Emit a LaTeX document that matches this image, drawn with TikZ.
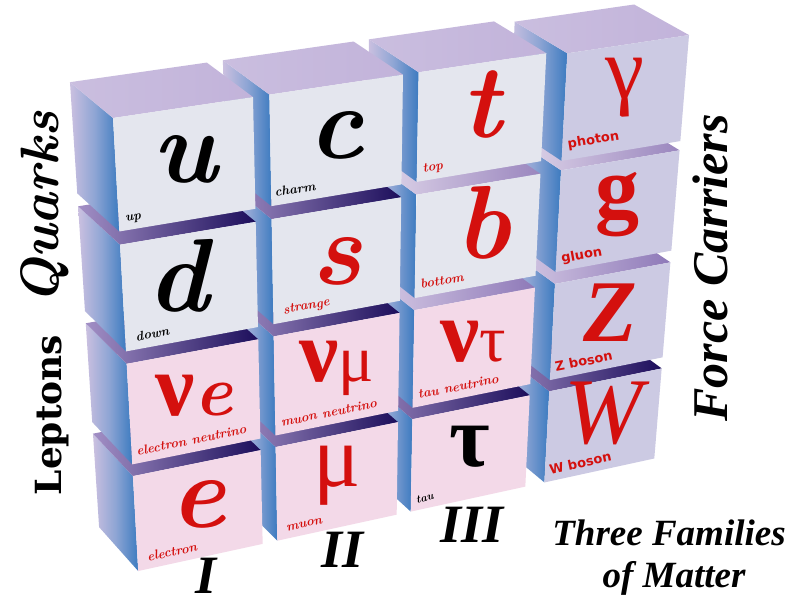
\documentclass[tikz,border=0pt]{standalone}
\usepackage{fontspec}
\newfontfamily\tms{Liberation Serif}[BoldFont={Liberation Serif Bold}, ItalicFont={Liberation Serif Italic}, BoldItalicFont={Liberation Serif Bold Italic}]
\newfontfamily\dvs{DejaVu Sans}
\newfontfamily\dvserif{DejaVu Serif}[BoldFont={DejaVu Serif Bold}]
\definecolor{qface}{HTML}{E4E6EE}
\definecolor{lface}{HTML}{F3D9E8}
\definecolor{fface}{HTML}{CCCAE3}
\definecolor{topA}{HTML}{CABEDF}
\definecolor{topB}{HTML}{C2B3DA}
\definecolor{sideback}{HTML}{CBC0E0}
\definecolor{sidemid}{HTML}{8EA5D4}
\definecolor{sidefront}{HTML}{3D7BC0}
\definecolor{pred}{RGB}{212,16,14}
\definecolor{navy}{HTML}{1C0E5B}
\definecolor{purA}{HTML}{A28FC5}
\definecolor{purB}{HTML}{9A86BE}
\definecolor{purC}{HTML}{8E79B8}
\definecolor{lavA}{HTML}{E3DAEC}
\definecolor{lavB}{HTML}{D9CEE7}

% perspective projection: X across, s down, t back
\newcommand\projpt[4]{%
  \pgfmathsetmacro\myden{1+0.02135*(#2)+0.02821*(#3)+0.0303*(#4)}%
  \pgfmathsetmacro\myx{(113+145.39*(#2)+9.676*(#3)-40.9*(#4))/\myden}%
  \pgfmathsetmacro\myy{(118-18.87*(#2)+120.01*(#3)-33.33*(#4))/\myden}%
  \coordinate (#1) at (\myx,\myy);%
}
\newcommand\glyph[6]{%
  \projpt{ga}{#1}{#2+#3}{0}%
  \projpt{gb}{#1+1}{#2+#3}{0}%
  \path (ga) -- (gb) node[midway, #4] (#5) {#6};%
}
\newcommand\facelabel[6]{%
  \projpt{la}{#1+#3}{#2+0.92}{0}%
  \projpt{lb}{#1+1}{#2+0.92}{0}%
  \path (la) -- (lb) node[pos=0, sloped, anchor=base west, #4] (#5) {#6};%
}
\newcommand\titlefont[1]{\tms\fontsize{#1}{#1}\selectfont\bfseries\itshape}

\begin{document}
\begin{tikzpicture}[x=1pt,y=-1pt,
  big/.style={inner sep=0pt, font=\fontsize{104}{104}\selectfont\bfseries\itshape},
  greek/.style={inner sep=0pt, font=\tms\fontsize{88}{88}\selectfont},
  lbl/.style={inner sep=0pt, font=\fontsize{13}{13}\selectfont\bfseries\itshape},
  slbl/.style={inner sep=0pt, text=pred, font=\dvs\fontsize{13}{13}\selectfont\bfseries},
  title/.style={inner sep=0pt}]
\useasboundingbox (0,0) rectangle (796,606);
\fill[white] (0,0) rectangle (796,606);

\foreach \ci/\ri/\colX/\rowS/\fc/\tl/\tr in {
  4/4/3.41/3.36/fface/purB/navy,
  4/3/3.41/2.24/fface/lavB/purC,
  4/2/3.41/1.12/fface/lavA/purB,
  4/1/3.41/0.03/fface/topA/topB,
  3/4/2.24/3.36/lface/purB/navy,
  3/3/2.24/2.24/lface/lavB/purC,
  3/2/2.24/1.12/qface/lavA/purB,
  3/1/2.24/0/qface/topA/topB,
  2/4/1.12/3.36/lface/purA/navy,
  2/3/1.12/2.24/lface/purA/navy,
  2/2/1.12/1.12/qface/purA/navy,
  2/1/1.12/0/qface/topA/topB,
  1/4/0/3.36/lface/purA/navy,
  1/3/0/2.24/lface/purA/navy,
  1/2/0/1.12/qface/purA/navy,
  1/1/0/0/qface/topA/topB}{
  \projpt{F00}{\colX}{\rowS}{0}
  \projpt{F10}{\colX+1}{\rowS}{0}
  \projpt{F11}{\colX+1}{\rowS+1}{0}
  \projpt{F01}{\colX}{\rowS+1}{0}
  \projpt{B00}{\colX}{\rowS}{1}
  \projpt{B10}{\colX+1}{\rowS}{1}
  \projpt{B01}{\colX}{\rowS+1}{1}
  \shade[left color=sideback, right color=sidefront, middle color=sidemid] (B00) -- (F00) -- (F01) -- (B01) -- cycle;
  \shade[left color=\tl, right color=\tr] (B00) -- (B10) -- (F10) -- (F00) -- cycle;
  \fill[\fc] (F00) -- (F10) -- (F11) -- (F01) -- cycle;
}

% big symbols
\glyph{0}{0}{0.45}{big}{gu}{u}
\glyph{1.12}{0}{0.45}{big}{gc}{c}
\glyph{2.24}{0}{0.38}{big,text=pred}{gt}{t}
\glyph{3.41}{0}{0.43}{greek,text=pred}{ggamma}{γ}
\glyph{0}{1.12}{0.38}{big,pos=0.42}{gd}{d}
\glyph{1.12}{1.12}{0.50}{big,text=pred}{gs}{s}
\glyph{2.24}{1.12}{0.38}{big,text=pred,pos=0.55}{gb}{b}
\glyph{3.41}{1.12}{0.43}{greek,text=pred}{gg}{\bfseries g}
\glyph{0}{2.24}{0.44}{greek,text=pred}{gne}{\bfseries ν{\fontsize{72}{72}\selectfont\rmfamily\bfseries\itshape e}}
\glyph{1.12}{2.24}{0.44}{greek,text=pred}{gnm}{\bfseries ν{\fontsize{66}{66}\selectfont\mdseries μ}}
\glyph{2.24}{2.24}{0.44}{greek,text=pred}{gnt}{\bfseries ν{\fontsize{66}{66}\selectfont\mdseries τ}}
\glyph{3.41}{2.24}{0.41}{greek,text=pred}{gz}{\bfseries\itshape Z}
\glyph{0}{3.36}{0.43}{big,text=pred}{ge}{e}
\glyph{1.12}{3.36}{0.44}{greek,text=pred}{gmu}{μ}
\glyph{2.24}{3.36}{0.42}{greek}{gtau}{\bfseries τ}
\glyph{3.41}{3.36}{0.37}{greek,text=pred}{gw}{\fontsize{94}{94}\selectfont\itshape W}

% small labels
\facelabel{0}{0}{0.05}{lbl}{lu}{up}
\facelabel{1.12}{0}{0.03}{lbl}{lc}{charm}
\facelabel{2.24}{0}{0.05}{lbl,text=pred}{lt}{top}
\facelabel{3.41}{0}{0.05}{slbl}{lph}{photon}
\facelabel{0}{1.12}{0.08}{lbl}{ld}{down}
\facelabel{1.12}{1.12}{0.08}{lbl,text=pred}{ls}{strange}
\facelabel{2.24}{1.12}{0.05}{lbl,text=pred}{lb}{bottom}
\facelabel{3.41}{1.12}{0.05}{slbl}{lg}{gluon}
\facelabel{0}{2.24}{0.04}{lbl,text=pred}{lne}{electron neutrino}
\facelabel{1.12}{2.24}{0.05}{lbl,text=pred}{lnm}{muon neutrino}
\facelabel{2.24}{2.24}{0.05}{lbl,text=pred}{lnt}{tau neutrino}
\facelabel{3.41}{2.24}{0.05}{slbl}{lz}{Z boson}
\facelabel{0}{3.36}{0.08}{lbl,text=pred}{le}{electron}
\facelabel{1.12}{3.36}{0.08}{lbl,text=pred}{lm}{muon}
\facelabel{2.24}{3.36}{0.05}{lbl,font=\fontsize{11}{11}\selectfont\bfseries\itshape}{ltau}{tau}
\facelabel{3.41}{3.36}{0.05}{slbl}{lw}{W boson}

% side titles
\node[rotate=90, inner sep=0pt, font=\fontsize{54}{54}\selectfont\bfseries\itshape] (quarks) at (45,208) {Quarks};
\node[rotate=90, inner sep=0pt, font=\dvserif\fontsize{36}{36}\selectfont\bfseries] (leptons) at (52,415) {Leptons};
\node[rotate=90, title, font=\titlefont{50}] (force) at (710,268) {Force Carriers};
\node[title, font=\titlefont{37}] (three) at (669,533) {Three Families};
\node[title, font=\titlefont{37}] (matter) at (674,578) {of Matter};
\node[title, font=\titlefont{54}] (fam1) at (206,576) {I};
\node[title, font=\titlefont{54}] (fam2) at (343,550) {II};
\node[title, font=\titlefont{54}] (fam3) at (472,525) {III};
\end{tikzpicture}
\end{document}
